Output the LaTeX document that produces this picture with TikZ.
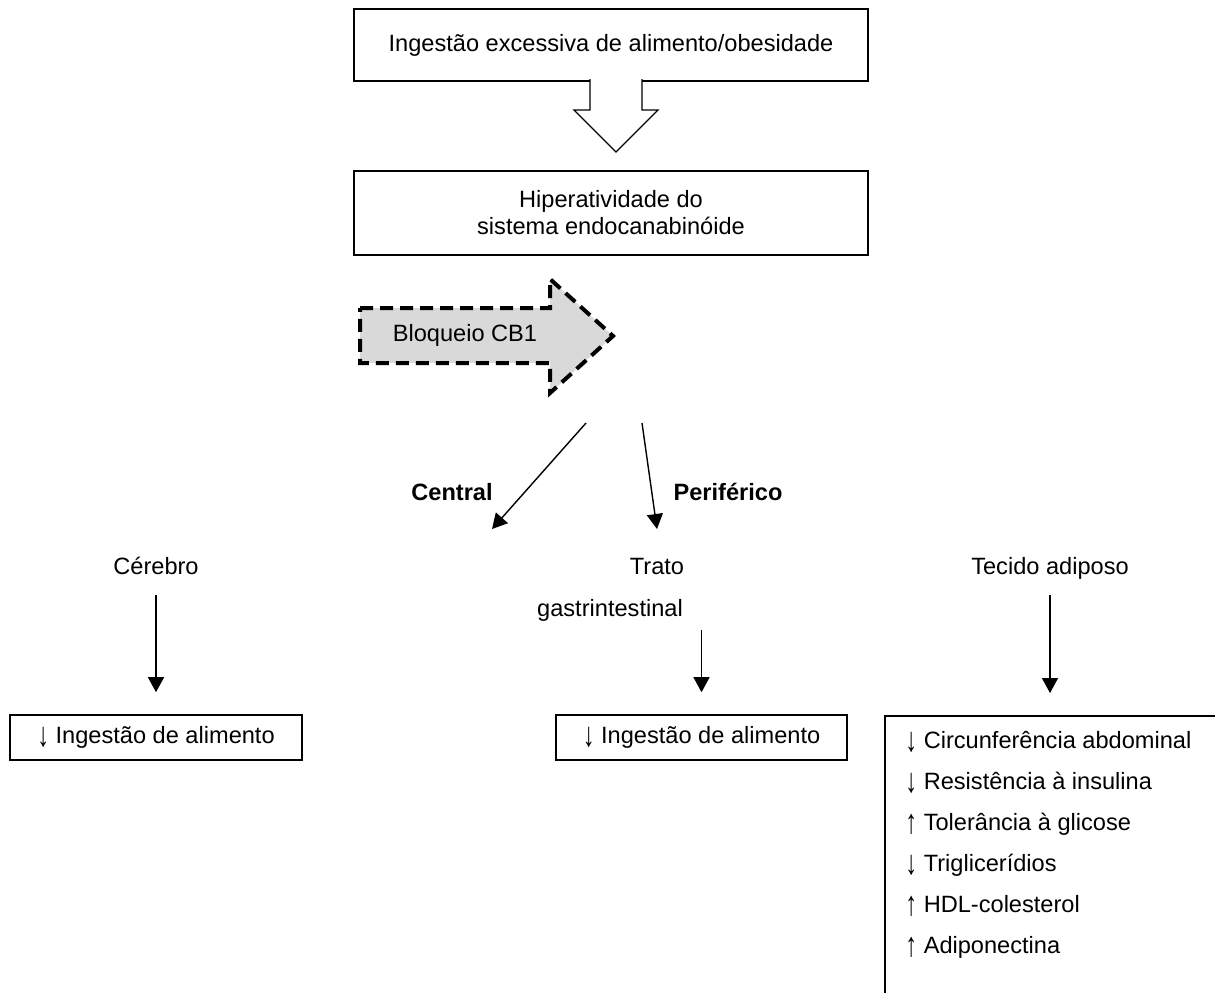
\documentclass[tikz,border=0pt]{standalone}
\usepackage{fontspec}
\setmainfont{Liberation Sans}
\usetikzlibrary{arrows.meta,positioning}
\definecolor{cinza}{HTML}{D9D9D9}
\newcommand{\menos}{\raisebox{-1.5pt}{\scalebox{1}[1.45]{↓}}}
\newcommand{\mais}{\raisebox{-1.5pt}{\scalebox{1}[1.45]{↑}}}

\tikzset{
  texto/.style={font=\fontsize{11.8pt}{13.5pt}\selectfont},
  negrito/.style={font=\fontsize{11.8pt}{13.5pt}\selectfont\bfseries},
  caixa/.style={draw, line width=0.8pt, inner sep=0pt, align=center},
  rotulo/.style={inner sep=0pt, text height=8.5pt, text depth=2.5pt},
  seta/.style={-{Triangle[width=8pt,length=7.5pt]}, line width=0.7pt},
}

\begin{document}
\begin{tikzpicture}[x=0.5pt,y=-0.5pt,texto]
\clip (0,0) rectangle (1215,992);
% topo
\node[caixa, minimum width=257pt, minimum height=36pt] (excesso) at (611,45) {Ingestão excessiva de alimento/obesidade};
\node[caixa, minimum width=257pt, minimum height=42pt] (hiper) at (611,213) {Hiperatividade do\\sistema endocanabinóide};
\draw[line width=0.6pt, fill=white] (590,79) -- (590,110) -- (574,110) -- (616,152) -- (658,110) -- (642,110) -- (642,79);

% bloqueio
\draw[line width=2pt, dash pattern=on 6.5pt off 3.5pt, fill=cinza] (360,308) -- (550,308) -- (550,279) -- (613,336) -- (550,393) -- (550,363) -- (360,363) -- cycle;
\node (bloqueio) at (465,335) {Bloqueio CB1};

\coordinate (cb1a) at (586,423);
\coordinate (cb1b) at (642,423);
\coordinate (centralfim) at (492,529);
\coordinate (perifim) at (657,529);
\draw[seta] (cb1a) -- (centralfim);
\draw[seta] (cb1b) -- (perifim);
\node[negrito] (central) at (452,492) {Central};
\node[negrito] (periferico) at (728,492) {Periférico};

% alvos
\node[rotulo] (cerebro) at (156,568) {Cérebro};
\node[rotulo] (trato) at (657,568) {Trato};
\node[rotulo] (gastro) at (610,610) {gastrintestinal};
\node[rotulo] (tecido) at (1050,568) {Tecido adiposo};

\node[caixa, minimum width=146pt, minimum height=22.5pt] (ingA) at (156,737.5) {\menos\ Ingestão de alimento};
\node[caixa, minimum width=145.5pt, minimum height=22.5pt] (ingB) at (701.5,737.5) {\menos\ Ingestão de alimento};
\node[caixa, minimum width=190pt, minimum height=150pt, anchor=north west] (efeitos) at (884,715) {};

\draw[seta, shorten <=8pt, shorten >=11pt] (cerebro) -- (ingA);
\draw[seta, shorten <=4.5pt, shorten >=11pt] (gastro.south -| ingB.north) -- (ingB.north);
\draw[seta, shorten <=8pt, shorten >=11pt] (tecido) -- (tecido |- efeitos.north);

\foreach \txt [count=\i] in {\menos\ Circunferência abdominal, \menos\ Resistência à insulina, \mais\ Tolerância à glicose, \menos\ Triglicerídios, \mais\ HDL-colesterol, \mais\ Adiponectina}
  \node[anchor=base west, inner sep=0pt] (efeito\i) at (905,{748.5+41*(\i-1)}) {\txt};
\end{tikzpicture}
\end{document}
